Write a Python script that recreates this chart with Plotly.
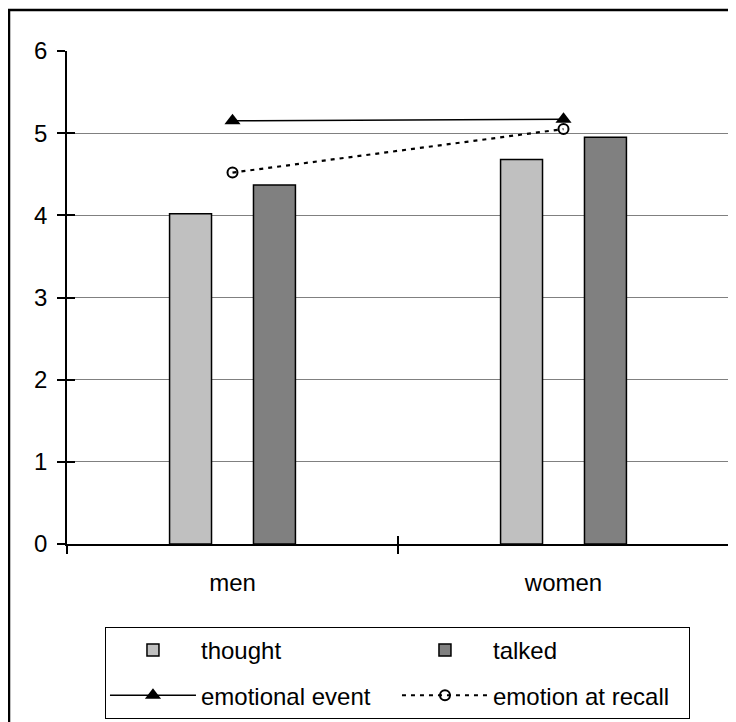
import plotly.graph_objects as go
import numpy as np

categories = ["men", "women"]
thought = [4.02, 4.68]
talked = [4.37, 4.95]
emotional_event = [5.15, 5.17]
emotion_at_recall = [4.52, 5.05]
y_ticks = [0, 1, 2, 3, 4, 5, 6]

FONT = "Liberation Sans, Arial, sans-serif"
FS = 24

fig = go.Figure()
fig.add_trace(go.Bar(name="thought", x=categories, y=thought, legendgroup="g1",
                     marker=dict(color="#C0C0C0", line=dict(color="black", width=1.5))))
fig.add_trace(go.Bar(name="talked", x=categories, y=talked, legendgroup="g2",
                     marker=dict(color="#808080", line=dict(color="black", width=1.5))))
fig.add_trace(go.Scatter(name="emotional event", x=categories, y=emotional_event,
                         mode="lines+markers", legendgroup="g3",
                         line=dict(color="black", width=1.5),
                         marker=dict(symbol="triangle-up", size=14, color="black")))
fig.add_trace(go.Scatter(name="emotion at recall", x=categories, y=emotion_at_recall,
                         mode="lines+markers", legendgroup="g4",
                         line=dict(color="black", width=2.2, dash="4px,5px"),
                         marker=dict(symbol="circle-open", size=10, color="black",
                                     line=dict(width=2, color="black"))))
# helper trace so the overlaying tick axes exist
fig.add_trace(go.Scatter(x=categories, y=[np.nan, np.nan], xaxis="x2", yaxis="y2",
                         mode="lines", showlegend=False, hoverinfo="skip"))

# the page body adds an 8px margin, so the figure is 8px smaller than the window
fig.update_layout(
    width=728, height=714,
    margin=dict(l=59, r=7, t=43, b=178, autoexpand=False),
    paper_bgcolor="white", plot_bgcolor="white",
    font=dict(family=FONT, size=FS, color="black"),
    barmode="group", bargap=0.493, bargroupgap=0.5,
    showlegend=True,
    legend=dict(orientation="h", xref="container", yref="container",
                x=0.1332, y=0.1331, xanchor="left", yanchor="top",
                bordercolor="black", borderwidth=1, bgcolor="white",
                entrywidth=191, entrywidthmode="pixels", itemwidth=86,
                tracegroupgap=11,
                font=dict(family=FONT, size=FS, color="black"),
                traceorder="grouped"),
    xaxis=dict(type="category", categoryarray=categories, range=[-0.5, 1.5],
               showline=True, linecolor="black", linewidth=1.5,
               ticks="outside", ticklen=8, tickwidth=1.5, tickcolor="black",
               tickson="boundaries", showgrid=False, ticklabelstandoff=16,
               tickfont=dict(family=FONT, size=FS)),
    yaxis=dict(range=[0, 6], tickvals=y_ticks, showline=True, linecolor="black",
               linewidth=1.5, ticks="outside", ticklen=8, tickwidth=1.5,
               tickcolor="black", showgrid=True, gridcolor="#808080", gridwidth=1,
               zeroline=False, ticklabelstandoff=5,
               tickfont=dict(family=FONT, size=FS)),
    xaxis2=dict(type="category", categoryarray=categories, range=[-0.5, 1.5],
                overlaying="x", anchor="y", ticks="inside", ticklen=8, tickwidth=1.5,
                tickcolor="black", tickson="boundaries", showticklabels=False,
                showgrid=False, showline=False, zeroline=False),
    yaxis2=dict(range=[0, 6], tickvals=y_ticks, overlaying="y", anchor="x", side="left",
                ticks="inside", ticklen=8, tickwidth=1.5, tickcolor="black",
                showticklabels=False, showgrid=False, showline=False, zeroline=False),
    shapes=[
        # right border of the plot area
        dict(type="line", xref="paper", yref="paper", x0=1, x1=1, y0=0, y1=1,
             line=dict(color="#808080", width=2)),
        # outer frame around the chart
        dict(type="rect", xref="paper", yref="paper", x0=-0.0876, x1=1.05,
             y0=-0.5, y1=1.0832, line=dict(color="black", width=2.5), layer="below"),
    ],
)

fig.write_html("out.html")
